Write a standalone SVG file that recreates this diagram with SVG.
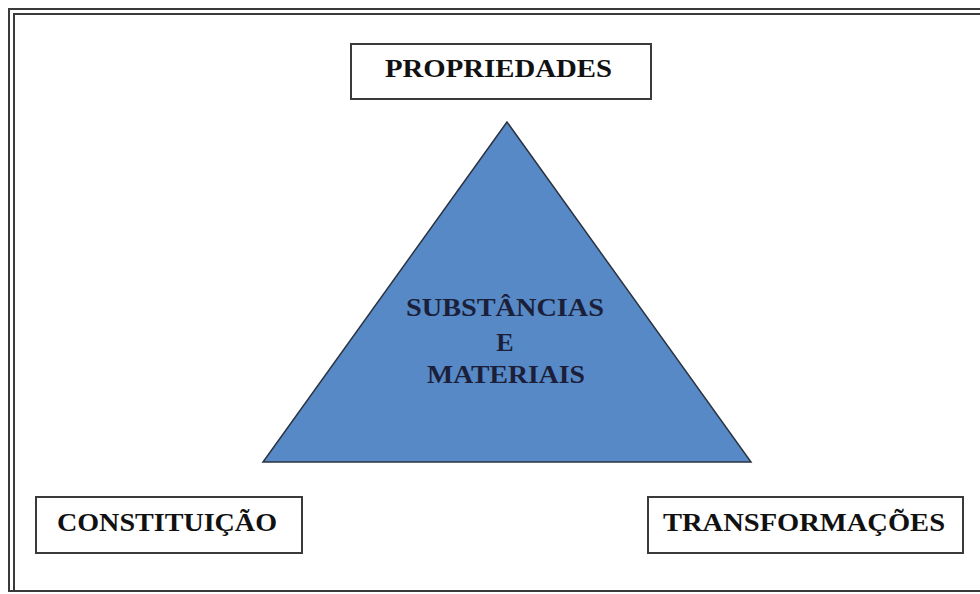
<svg xmlns="http://www.w3.org/2000/svg" width="980" height="594" viewBox="0 0 980 594">
<style>
.frame{stroke:#3a3a3a;stroke-width:2;fill:none}
.box{fill:#fff;stroke:#3a3a3a;stroke-width:2}
.lbl{font-family:"Liberation Serif","Times New Roman",serif;font-weight:bold;font-size:26px;fill:#111}
.in{font-family:"Liberation Serif","Times New Roman",serif;font-weight:bold;font-size:26px;fill:#1c1f3a;text-anchor:middle}
</style>
<rect width="980" height="594" fill="#fff"/>
<g id="frame">
<path class="frame" d="M980 9 H9 V592 M980 14 H14 V591 M8 591 H980"/>
</g>
<g id="triangle">
<polygon points="507,122 263,462 751,462" fill="#5689c6" stroke="#2b3340" stroke-width="1.5" stroke-linejoin="miter"/>
<text class="in" x="505" y="316" textLength="198" lengthAdjust="spacingAndGlyphs">SUBSTÂNCIAS</text>
<text class="in" x="505" y="351">E</text>
<text class="in" x="506" y="383" textLength="158" lengthAdjust="spacingAndGlyphs">MATERIAIS</text>
</g>
<g id="propriedades">
<rect class="box" x="351" y="44" width="300" height="55"/>
<text class="lbl" x="385" y="77" textLength="227" lengthAdjust="spacingAndGlyphs">PROPRIEDADES</text>
</g>
<g id="constituicao">
<rect class="box" x="36" y="497" width="266" height="56"/>
<text class="lbl" x="57" y="531" textLength="220" lengthAdjust="spacingAndGlyphs">CONSTITUIÇÃO</text>
</g>
<g id="transformacoes">
<rect class="box" x="648" y="497" width="315" height="56"/>
<text class="lbl" x="663" y="531" textLength="282" lengthAdjust="spacingAndGlyphs">TRANSFORMAÇÕES</text>
</g>
<g id="connectors"></g>
</svg>
